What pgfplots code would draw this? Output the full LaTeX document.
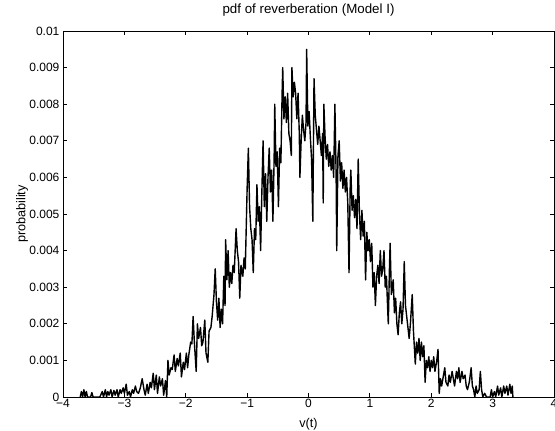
\documentclass[border=0pt]{standalone}
\usepackage{pgfplots}
\pgfplotsset{compat=1.18}
\usepackage{pgfplotstable}
\usepackage{fontspec}
\setmainfont{Liberation Sans}
\pgfplotstableread{
x y
-3.72 0
-3.70 0.15
-3.68 0
-3.66 0.2
-3.64 0
-3.62 0.15
-3.60 0
-3.55 0
-3.53 0.12
-3.51 0
-3.40 0
-3.36 0.15
-3.34 0
-3.31 0.2
-3.29 0
-3.27 0.15
-3.25 0.05
-3.22 0.2
-3.20 0
-3.17 0.18
-3.15 0.05
-3.12 0.2
-3.10 0
-3.07 0.2
-3.05 0.1
-3.02 0.25
-3.00 0.1
-2.97 0.35
-2.95 0.05
-2.92 0.15
-2.90 0
-2.87 0.2
-2.85 0.1
-2.82 0.3
-2.80 0.15
-2.77 0.1
-2.74 0.25
-2.71 0.5
-2.68 0.2
-2.66 0.05
-2.63 0.35
-2.61 0.1
-2.58 0.4
-2.56 0.25
-2.53 0.65
-2.51 0.2
-2.48 0.6
-2.46 0.1
-2.43 0.55
-2.41 0.3
-2.38 0.5
-2.36 0.05
-2.33 0.45
-2.31 0.0
-2.29 1.0
-2.27 0.6
-2.24 0.8
-2.22 0.75
-2.19 1.15
-2.17 0.7
-2.14 1.05
-2.12 0.85
-2.09 1.2
-2.07 0.55
-2.04 0.95
-2.02 0.75
-1.99 1.2
-1.97 0.8
-1.95 1.15
-1.92 1.5
-1.90 1.45
-1.88 2.2
-1.86 1.5
-1.83 0.7
-1.81 2.0
-1.79 1.6
-1.76 1.9
-1.74 1.4
-1.72 1.5
-1.69 2.1
-1.67 1.2
-1.64 0.95
-1.62 1.8
-1.59 1.9
-1.57 2.2
-1.54 2.8
-1.52 3.5
-1.50 2.6
-1.48 2.1
-1.46 2.7
-1.44 1.9
-1.42 2.4
-1.40 2.0
-1.38 3.3
-1.36 2.5
-1.35 4.3
-1.33 3.2
-1.31 4.0
-1.29 3.0
-1.27 3.4
-1.25 3.1
-1.23 3.6
-1.21 3.4
-1.18 4.6
-1.16 4.0
-1.14 3.7
-1.12 2.7
-1.10 3.6
-1.07 3.3
-1.05 3.8
-1.03 3.5
-1.00 5.7
-0.98 6.8
-0.96 5.2
-0.94 4.6
-0.92 4.3
-0.90 3.4
-0.88 4.6
-0.86 4.3
-0.84 5.8
-0.82 4.8
-0.80 5.2
-0.78 4.0
-0.76 5.6
-0.74 7.0
-0.72 5.2
-0.70 6.1
-0.68 4.8
-0.66 6.0
-0.64 6.8
-0.62 5.6
-0.60 6.2
-0.58 4.8
-0.56 6.5
-0.55 8.0
-0.53 6.3
-0.51 6.7
-0.49 5.2
-0.47 6.8
-0.45 6.4
-0.43 8.3
-0.42 9.0
-0.40 7.6
-0.38 8.2
-0.36 7.5
-0.34 8.3
-0.32 7.2
-0.30 7.0
-0.28 6.6
-0.27 9.0
-0.25 8.2
-0.23 8.6
-0.21 8.3
-0.19 7.6
-0.17 8.3
-0.15 7.2
-0.14 6.0
-0.12 7.0
-0.10 7.7
-0.08 7.3
-0.06 7.0
-0.04 7.5
-0.03 9.5
-0.01 7.4
0.01 7.8
0.03 7.1
0.05 6.5
0.07 4.8
0.09 8.7
0.11 7.7
0.13 7.3
0.15 6.9
0.17 7.4
0.19 7.0
0.21 6.6
0.23 7.2
0.24 5.3
0.25 8.0
0.27 7.1
0.29 6.5
0.31 6.9
0.33 6.3
0.35 6.7
0.37 6.2
0.39 6.6
0.41 6.0
0.43 8.0
0.45 6.1
0.46 4.0
0.48 6.6
0.50 7.0
0.52 5.9
0.54 6.4
0.56 5.7
0.58 6.2
0.60 5.6
0.62 6.0
0.64 5.3
0.66 3.4
0.68 5.8
0.69 6.2
0.71 5.1
0.73 5.5
0.75 4.9
0.77 5.4
0.79 4.6
0.81 6.5
0.83 5.0
0.85 4.3
0.87 5.1
0.89 4.4
0.91 4.8
0.93 3.2
0.95 4.5
0.97 4.0
0.99 4.3
1.01 3.7
1.03 4.2
1.05 3.0
1.07 3.4
1.09 2.5
1.11 3.3
1.13 3.6
1.15 3.1
1.17 4.0
1.19 3.3
1.21 3.5
1.23 4.0
1.25 3.0
1.27 3.3
1.29 2.4
1.30 2.0
1.32 3.6
1.33 4.2
1.35 2.8
1.38 3.2
1.40 2.3
1.42 2.7
1.44 2.0
1.46 1.7
1.48 2.3
1.50 2.6
1.52 2.0
1.54 2.4
1.56 3.7
1.58 2.5
1.60 2.2
1.62 1.9
1.64 1.6
1.66 2.0
1.69 2.8
1.71 1.8
1.72 1.5
1.74 0.9
1.76 1.5
1.78 1.2
1.80 1.6
1.82 1.0
1.84 1.5
1.86 1.1
1.88 1.4
1.90 0.4
1.92 1.0
1.94 0.8
1.96 1.1
1.98 0.7
2.00 1.0
2.02 0.8
2.04 1.1
2.06 0.7
2.09 1.0
2.11 1.3
2.13 0.1
2.15 0.5
2.17 0.3
2.20 0.6
2.22 0.8
2.24 0.4
2.27 0.3
2.29 0.6
2.31 0.4
2.34 0.7
2.36 0.5
2.38 0.3
2.41 0.7
2.43 0.5
2.45 0.8
2.47 0.4
2.50 0.7
2.52 0.5
2.55 0.6
2.57 0.3
2.59 0.2
2.62 0.4
2.65 0.8
2.67 0.3
2.69 0.2
2.71 0.0
2.73 0.3
2.75 0.1
2.78 0.2
2.80 0.7
2.82 0.2
2.84 0.0
2.87 0.1
2.90 0.0
2.96 0.0
2.98 0.2
3.00 0.0
3.03 0.15
3.05 0.0
3.08 0.3
3.10 0.05
3.13 0.25
3.15 0.0
3.18 0.3
3.20 0.1
3.23 0.3
3.25 0.05
3.28 0.35
3.30 0.1
3.32 0.3
3.33 0
}\pdfdata
\begin{document}
\begin{tikzpicture}
\begin{axis}[
  scale only axis,
  width=368.25pt, height=274.5pt,
  xmin=-4, xmax=4, ymin=0, ymax=0.01,
  scaled y ticks=false,
  scaled x ticks=false,
  xtick={-4,-3,...,4},
  xticklabels={−4,−3,−2,−1,0,1,2,3,4},
  ytick={0,0.001,0.002,0.003,0.004,0.005,0.006,0.007,0.008,0.009,0.01},
  yticklabels={0,0.001,0.002,0.003,0.004,0.005,0.006,0.007,0.008,0.009,0.01},
  tick align=inside,
  major tick length=3pt,
  axis line style={line width=0.6pt},
  every tick/.style={black, line width=0.6pt},
  tick label style={font=\fontsize{9}{10}\selectfont},
  xticklabel style={inner sep=1.5pt},
  yticklabel style={inner sep=2.5pt},
  /pgf/number format/assume math mode=true,
  title={pdf of reverberation (Model I)},
  title style={at={(axis description cs:0.5,1.0273)}, anchor=base, inner sep=0pt, font=\fontsize{10}{12}\selectfont},
  xlabel={v(t)},
  xlabel style={at={(axis description cs:0.5,-0.0747)}, anchor=center, inner sep=0pt, font=\fontsize{9.5}{11}\selectfont},
  ylabel={probability},
  ylabel style={at={(axis description cs:-0.0835,0.5)}, anchor=center, inner sep=0pt, font=\fontsize{9.5}{11}\selectfont},
]
\addplot[black, line width=1.05pt, line join=round] table[x=x, y expr=\thisrow{y}/1000] {\pdfdata};
\end{axis}
\pgfresetboundingbox
\path[use as bounding box] (-47.25pt,-24.75pt) rectangle (369pt,297.75pt);
\end{tikzpicture}
\end{document}
